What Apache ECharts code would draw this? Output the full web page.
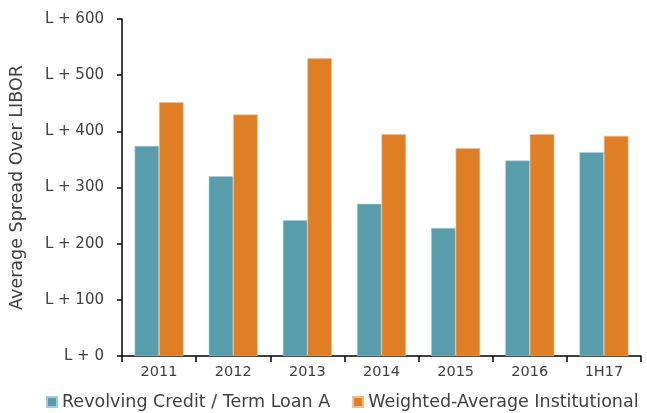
<!DOCTYPE html>
<html><head><meta charset="utf-8">
<script src="https://cdn.jsdelivr.net/npm/echarts@6/dist/echarts.min.js"></script>
<style>html,body{margin:0;padding:0;background:#fff}#c{width:647px;height:413px}</style>
</head><body><div id="c"></div>
<script>
const categories = ["2011","2012","2013","2014","2015","2016","1H17"];
const revolvingTLA = [374, 320, 242, 271, 228, 348, 363];
const institutional = [452, 430, 530, 395, 370, 395, 392];
const yTicks = [0, 100, 200, 300, 400, 500, 600];

const chart = echarts.init(document.getElementById('c'));
const font = 'DejaVu Sans';
chart.setOption({
  animation: false,
  textStyle: {fontFamily: font, color: '#404040'},
  grid: {left: 121, right: 6, top: 19, bottom: 57},
  legend: {
    top: 388, left: 41, itemWidth: 10, itemHeight: 10, itemGap: 22,
    icon: 'rect',
    textStyle: {fontFamily: font, fontSize: 17.5, color: '#404040', padding: [0,0,0,0]},
    data: ['Revolving Credit / Term Loan A', 'Weighted-Average Institutional']
  },
  xAxis: {
    type: 'category', data: categories,
    axisLine: {lineStyle: {color: '#000', width: 1.5}},
    axisTick: {show: true, length: 6, lineStyle: {color: '#000', width: 1.5}},
    axisLabel: {fontSize: 14.5, color: '#404040', margin: 9, fontFamily: font}
  },
  yAxis: {
    type: 'value', min: 0, max: 600, interval: 100,
    name: 'Average Spread Over LIBOR', nameLocation: 'middle', nameGap: 96,
    nameTextStyle: {fontSize: 17.5, color: '#404040', fontFamily: font},
    axisLine: {show: true, lineStyle: {color: '#000', width: 1.5}},
    axisTick: {show: true, length: 5, lineStyle: {color: '#000', width: 1.5}},
    splitLine: {show: false},
    axisLabel: {fontSize: 15, color: '#404040', margin: 18, fontFamily: font,
      formatter: v => yTicks.includes(v) ? 'L + ' + v : ''}
  },
  series: [
    {name: 'Revolving Credit / Term Loan A', type: 'bar', data: revolvingTLA,
     barWidth: 24.5, barGap: '0%',
     itemStyle: {color: '#579dab', borderColor: '#a9ccd4', borderWidth: 0.6}},
    {name: 'Weighted-Average Institutional', type: 'bar', data: institutional,
     barWidth: 24.5, barGap: '0%',
     itemStyle: {color: '#e07e26', borderColor: '#f0bd90', borderWidth: 0.6}}
  ]
});
</script></body></html>
